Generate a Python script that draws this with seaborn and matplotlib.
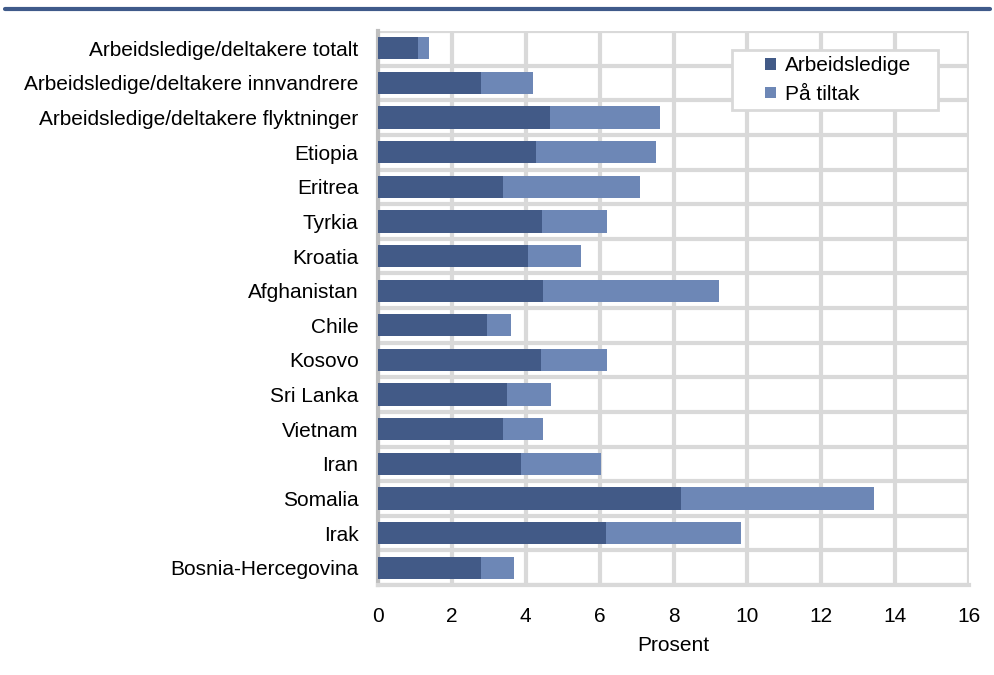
import matplotlib
matplotlib.use("Agg")
import matplotlib.pyplot as plt
from matplotlib.patches import Patch, Rectangle
from matplotlib.lines import Line2D
from matplotlib.legend_handler import HandlerBase
import seaborn as sns
import pandas as pd
import numpy as np

categories = [
    "Arbeidsledige/deltakere totalt",
    "Arbeidsledige/deltakere innvandrere",
    "Arbeidsledige/deltakere flyktninger",
    "Etiopia", "Eritrea", "Tyrkia", "Kroatia", "Afghanistan", "Chile",
    "Kosovo", "Sri Lanka", "Vietnam", "Iran", "Somalia", "Irak",
    "Bosnia-Hercegovina",
]
arbeidsledige = [1.08, 2.79, 4.67, 4.29, 3.39, 4.45, 4.07, 4.46, 2.95,
                 4.40, 3.50, 3.39, 3.86, 8.21, 6.17, 2.79]
paa_tiltak = [0.30, 1.41, 2.97, 3.24, 3.71, 1.75, 1.42, 4.78, 0.66,
              1.80, 1.19, 1.08, 2.17, 5.22, 3.67, 0.89]

dark = "#425a87"
light = "#6d87b6"
grid = "#d9d9d9"

df = pd.DataFrame({"kategori": categories,
                   "Arbeidsledige": arbeidsledige,
                   "På tiltak": paa_tiltak})
df["total"] = df["Arbeidsledige"] + df["På tiltak"]

sns.set_style("white")
plt.rcParams["font.family"] = ["Liberation Sans", "DejaVu Sans"]
plt.rcParams["text.color"] = "black"
plt.rcParams["xtick.color"] = "black"
plt.rcParams["ytick.color"] = "black"
plt.rcParams["axes.labelcolor"] = "black"
fs = 15


class SquareRight(HandlerBase):
    # small square sitting at the right end of the handle box
    def create_artists(self, legend, orig_handle, xdescent, ydescent,
                       width, height, fontsize, trans):
        s = 8.0
        r = Rectangle((width - xdescent - s, (height - s) / 2 - ydescent), s, s,
                      facecolor=orig_handle.get_facecolor(), edgecolor="none",
                      transform=trans)
        return [r]


fig = plt.figure(figsize=(9.95, 6.75), dpi=100)
ax_w = (969 - 378)
ax_h = (585 - 31)
ax = fig.add_axes([378 / 995, 1 - 585 / 675, ax_w / 995, ax_h / 675])

# total first (light), then dark part on top
sns.barplot(data=df, y="kategori", x="total", color=light, orient="h",
            width=0.64, ax=ax, saturation=1, linewidth=0, zorder=3)
sns.barplot(data=df, y="kategori", x="Arbeidsledige", color=dark, orient="h",
            width=0.64, ax=ax, saturation=1, linewidth=0, zorder=4)

ax.set_xlim(0, 16)
ax.set_ylim(len(categories) - 0.5, -0.5)
ax.set_xticks(np.arange(0, 17, 2))
ax.set_yticks(np.arange(len(categories) + 1) - 0.5, minor=True)
ax.grid(False)
ax.xaxis.grid(True, which="major", color=grid, linewidth=3, zorder=0)
ax.yaxis.grid(True, which="minor", color=grid, linewidth=3, zorder=0)
ax.set_axisbelow(True)
ax.tick_params(axis="both", which="both", length=0, labelsize=fs)
ax.tick_params(axis="x", pad=16)
ax.tick_params(axis="y", pad=14)
ax.set_ylabel("")
ax.set_xlabel("Prosent", fontsize=fs, labelpad=7)

for side in ["top", "right"]:
    ax.spines[side].set_visible(False)
ax.spines["bottom"].set_color(grid)
ax.spines["bottom"].set_linewidth(3)
ax.spines["left"].set_color("#bfbfbf")
ax.spines["left"].set_linewidth(3)

handles = [Patch(facecolor=dark, label="Arbeidsledige"),
           Patch(facecolor=light, label="På tiltak")]
leg = ax.legend(handles=handles, loc="upper left", mode="expand",
                bbox_to_anchor=((732 - 378) / ax_w, 1 - (50 - 31) / ax_h,
                                (938 - 732) / ax_w, 0),
                handler_map={Patch: SquareRight()},
                frameon=True, fancybox=False, fontsize=fs,
                handlelength=1.8, handletextpad=0.45,
                borderpad=0.3, labelspacing=0.45, borderaxespad=0)
leg.get_frame().set_edgecolor(grid)
leg.get_frame().set_linewidth(2)
leg.get_frame().set_alpha(1)

# header rule at the top of the page
fig.add_artist(Line2D([0.005, 0.995], [1 - 9 / 675, 1 - 9 / 675],
                      color="#3f5a8a", linewidth=3, transform=fig.transFigure))

fig.savefig("out.png", dpi=100)
